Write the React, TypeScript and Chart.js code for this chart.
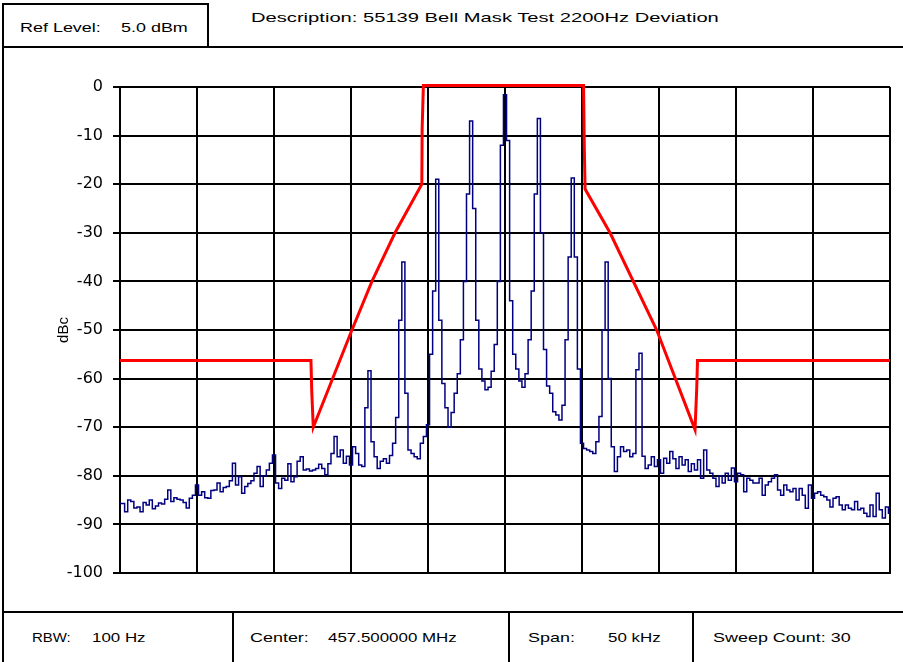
import React, { useEffect, useRef } from "react";
import { Chart, registerables } from "chart.js";

Chart.register(...registerables);

// ---- data ----
const FREQ_START_KHZ = -25;
const FREQ_STEP_KHZ = 0.2;

const traceDbc: number[] = [
  -85.7, -85.7, -87.4, -85.0, -85.3, -86.6, -86.4, -87.4, -85.5, -86.0,
  -85.0, -86.8, -86.2, -85.6, -85.8, -84.8, -82.9, -85.3, -84.5, -84.8,
  -85.0, -85.5, -86.6, -84.6, -84.0, -81.9, -84.0, -83.3, -84.5, -84.6,
  -83.0, -82.9, -81.5, -83.3, -82.4, -82.2, -81.0, -77.4, -81.9, -80.2,
  -83.6, -82.2, -81.6, -81.0, -79.5, -78.1, -82.2, -80.0, -78.8, -77.4,
  -75.7, -81.5, -82.6, -80.5, -80.9, -77.5, -81.2, -80.2, -77.0, -76.1,
  -78.8, -78.6, -79.0, -78.8, -78.5,
  -77.6, -78.5, -79.8, -77.5, -75.4, -71.9, -76.1, -74.7, -77.4, -76.0,
  -77.8, -74.0, -75.4, -77.8, -78.1, -66.0, -58.4, -73.0, -76.1, -78.5,
  -77.0, -76.5, -77.4, -75.8, -73.3, -68.0, -48.0, -36.0, -63.0, -74.7,
  -75.4, -76.1, -76.5, -73.3, -71.9, -69.5, -55.0, -42.0, -19.0, -48.0,
  -61.0, -66.0, -70.0, -67.0, -63.0, -59.0, -52.0, -40.0, -22.0, -7.0,
  -25.0, -48.0, -58.0, -60.5, -62.3, -61.8, -58.5, -53.0, -40.0, -12.0,
  -1.6, -11.0, -44.0, -55.0, -58.0, -60.5, -61.8, -59.0, -52.0, -42.0,
  -22.0, -6.5, -30.0, -54.0, -61.5, -63.0, -66.8, -67.5, -68.5, -65.5,
  -52.0, -35.0, -18.7, -35.0, -58.0, -73.3, -74.4, -74.7, -75.0, -75.4,
  -73.0, -67.8, -50.0, -36.0, -60.0, -74.0, -79.1, -76.1, -74.0, -75.0,
  -74.7, -76.1, -75.4, -58.2, -54.8, -76.0, -78.5, -77.8, -76.1, -78.1,
  -76.7, -79.5, -76.4, -77.4, -75.0, -76.5, -78.5, -76.1, -77.8, -76.7, -79.1,
  -77.5, -78.8, -76.7, -80.5, -74.7, -78.8, -79.5, -80.5, -82.2, -80.0,
  -81.5, -79.5, -80.9, -78.4, -81.2, -79.5, -79.8, -83.3, -80.5, -80.9,
  -81.5, -81.5, -80.5, -84.0, -81.9, -81.2, -80.5, -79.8, -82.9, -84.0,
  -81.9, -82.9, -83.3, -82.6, -85.0, -82.6, -84.0, -86.7, -81.9, -84.6,
  -83.6, -83.3, -84.0, -84.3, -85.0, -86.4, -84.6, -84.3, -86.0, -87.0,
  -86.0, -86.7, -87.0, -85.3, -87.0, -86.7, -87.7, -88.4, -86.0, -88.4,
  -83.6, -87.0, -88.7, -86.4, -87.7,
];

const maskFreqKhz = [-25, -12.6, -12.55, -12.45, -9.94, -8.64, -7.14, -5.4, -5.38, -5.3, 5.1, 5.15, 5.2, 6.82, 9.85, 12.34, 12.45, 12.5, 25];
const maskDbc = [-56.3, -56.3, -62.5, -70, -50, -40, -30, -20, -8.5, 0.3, 0.3, -12.5, -21, -30, -50, -70.5, -62, -56.3, -56.3];

const xGridKhz = [-25, -20, -15, -10, -5, 0, 5, 10, 15, 20, 25];
const yTickValues = [0, -10, -20, -30, -40, -50, -60, -70, -80, -90, -100];
const yTickLabels = ["0", "-10", "-20", "-30", "-40", "-50", "-60", "-70", "-80", "-90", "-100"];
const yAxisTitle = "dBc";

const refLevelLabel = "Ref Level:";
const refLevelValue = "5.0 dBm";
const descriptionText = "Description: 55139 Bell Mask Test 2200Hz Deviation";
const footerLabels = ["RBW:", "Center:", "Span:", "Sweep Count: 30"];
const footerValues = ["100 Hz", "457.500000 MHz", "50 kHz", ""];

// ---- layout (not data) ----
const FONT = "'Liberation Sans', Arial, sans-serif";

function Txt({ x, y, k = 1.42, children }: { x: number; y: number; k?: number; children: React.ReactNode }) {
  return (
    <div
      style={{
        position: "absolute",
        left: x,
        top: y,
        fontFamily: FONT,
        fontSize: 13,
        lineHeight: "16px",
        whiteSpace: "nowrap",
        color: "#000",
        transform: `translateY(-50%) scaleX(${k})`,
        transformOrigin: "left center",
      }}
    >
      {children}
    </div>
  );
}

function Line({ x, y, w, h }: { x: number; y: number; w: number; h: number }) {
  return <div style={{ position: "absolute", left: x, top: y, width: w, height: h, background: "#000" }} />;
}

export default function App() {
  const canvasRef = useRef<HTMLCanvasElement | null>(null);

  useEffect(() => {
    const canvas = canvasRef.current;
    if (!canvas) return;
    const tracePoints = traceDbc.map((y, i) => ({ x: FREQ_START_KHZ + i * FREQ_STEP_KHZ, y }));
    const maskPoints = maskFreqKhz.map((x, i) => ({ x, y: maskDbc[i] }));

    const chart = new Chart(canvas, {
      type: "line",
      data: {
        datasets: [
          {
            label: "Mask",
            data: maskPoints,
            borderColor: "#ff0000",
            borderWidth: 3,
            pointRadius: 0,
            fill: false,
            tension: 0,
            clip: false as any,
          },
          {
            label: "Trace",
            data: tracePoints,
            borderColor: "#000080",
            borderWidth: 1.5,
            pointRadius: 0,
            fill: false,
            stepped: "middle",
          },
        ],
      },
      options: {
        animation: false,
        responsive: false,
        devicePixelRatio: 1,
        parsing: false,
        layout: { padding: { left: 55, top: 40, right: 13, bottom: 39 } },
        plugins: { legend: { display: false }, tooltip: { enabled: false } },
        scales: {
          x: {
            type: "linear",
            min: -25,
            max: 25,
            afterBuildTicks: (s: any) => {
              s.ticks = xGridKhz.map((v) => ({ value: v }));
            },
            ticks: { display: false },
            grid: { color: "#000", lineWidth: 2, drawTicks: false },
            border: { color: "#000", width: 2 },
            afterFit: (s: any) => {
              s.height = 0;
            },
          },
          y: {
            type: "linear",
            min: -100,
            max: 0,
            afterBuildTicks: (s: any) => {
              s.ticks = yTickValues.map((v) => ({ value: v }));
            },
            ticks: {
              callback: (v: any) => {
                const k = yTickValues.indexOf(Number(v));
                return k >= 0 ? yTickLabels[k] : "";
              },
              font: { family: "'DejaVu Sans'", size: 16 },
              color: "#000",
              padding: 10,
            },
            grid: { color: "#000", lineWidth: 2, tickLength: 7 },
            border: { color: "#000", width: 2 },
            title: {
              display: true,
              text: yAxisTitle,
              color: "#000",
              font: { family: "'Liberation Sans'", size: 15 },
              padding: 0,
            },
            afterFit: (s: any) => {
              s.width = 65;
            },
          },
        },
      },
    } as any);
    return () => chart.destroy();
  }, []);

  const footerLabelX = [32, 250, 528, 713];
  const footerValueX = [92, 328, 608, 0];

  return (
    <div style={{ position: "fixed", left: 0, top: 0, width: 903, height: 662, background: "#fff", overflow: "hidden" }}>
      {/* frame */}
      <Line x={2} y={3} w={2} h={659} />
      <Line x={2} y={3} w={207} h={2} />
      <Line x={207} y={3} w={2} h={45} />
      <Line x={2} y={46} w={901} h={2} />
      <Line x={2} y={611} w={901} h={2} />
      <Line x={232} y={611} w={2} h={51} />
      <Line x={508} y={611} w={2} h={51} />
      <Line x={692} y={611} w={2} h={51} />

      <Txt x={20} y={28} k={1.38}>{refLevelLabel}</Txt>
      <Txt x={121} y={28} k={1.38}>{refLevelValue}</Txt>
      <Txt x={251} y={18} k={1.55}>{descriptionText}</Txt>

      {footerLabels.map((t, i) => (
        <Txt key={"fl" + i} x={footerLabelX[i]} y={638} k={i === 0 ? 1.15 : 1.38}>{t}</Txt>
      ))}
      {footerValues.map((t, i) =>
        t ? (
          <Txt key={"fv" + i} x={footerValueX[i]} y={638} k={1.3}>{t}</Txt>
        ) : null
      )}

      <canvas ref={canvasRef} width={903} height={565} style={{ position: "absolute", left: 0, top: 47, display: "block" }} />
    </div>
  );
}
